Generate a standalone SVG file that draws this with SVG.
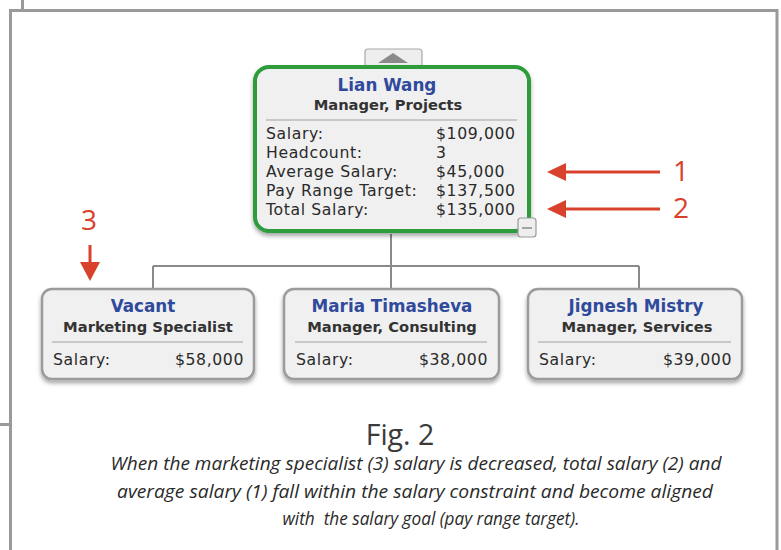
<svg xmlns="http://www.w3.org/2000/svg" width="781" height="550" viewBox="0 0 781 550">
<style>
.frame{stroke:#9a9a9a;stroke-width:3;fill:none}
.node{fill:#f0f0f0;stroke:#9b9b9b;stroke-width:2.5}
.top{fill:#f0f0f0;stroke:#2e9b3e;stroke-width:4}
.v{font-family:Verdana,"DejaVu Sans","Bitstream Vera Sans",sans-serif}
.name{font-weight:bold;font-size:16.8px;fill:#2f4a9c;text-anchor:middle}
.title{font-weight:bold;font-size:14.7px;fill:#333;text-anchor:middle}
.row{font-size:15.7px;fill:#2a2a2a;letter-spacing:0.6px}
.val{text-anchor:end}
.sep{stroke:#a0a0a0;stroke-width:1.2}
.conn{stroke:#8a8a8a;stroke-width:2;fill:none}
.red{stroke:#d8412c;stroke-width:3;fill:none}
.redfill{fill:#d8412c}
.num{font-family:"Open Sans","Liberation Sans",sans-serif;font-size:28px;fill:#d8412c}
.fig{font-family:"Open Sans","Liberation Sans",sans-serif;font-size:28.5px;fill:#3a3a3a;text-anchor:middle}
.cap{font-family:"Open Sans","Liberation Sans",sans-serif;font-style:italic;font-size:19px;fill:#2a2a2a;text-anchor:middle}
</style>
<defs>
<filter id="sh" x="-10%" y="-10%" width="120%" height="130%">
<feDropShadow dx="0" dy="3" stdDeviation="2" flood-color="#000" flood-opacity="0.35"/>
</filter>
</defs>
<rect width="781" height="550" fill="#ffffff"/>
<g id="frame">
<path class="frame" d="M10.5 550 V10.5 H777 V550"/>
<path class="frame" d="M22.5 0 V10.5"/>
<path class="frame" d="M0 424.5 H10.5"/>
</g>
<g id="connectors">
<path class="conn" d="M391 234 V266 M153 266 H639 M153 266 V289 M391 266 V289 M639 266 V289"/>
</g>
<g id="node-lian">
<rect x="365" y="49" width="57" height="22" rx="3" fill="#eeeeee" stroke="#a8a8a8" stroke-width="1.2"/>
<polygon points="378,63 393,53 408,63" fill="#8a8a8a"/>
<rect class="top" x="255" y="67" width="274" height="164" rx="14" filter="url(#sh)"/>
<text class="v name" x="387" y="91">Lian Wang</text>
<text class="v title" x="388" y="110">Manager, Projects</text>
<line class="sep" x1="266" y1="120" x2="517" y2="120"/>
<text class="v row" x="266" y="139">Salary:</text>
<text class="v row" x="436" y="139">$109,000</text>
<text class="v row" x="266" y="158">Headcount:</text>
<text class="v row" x="436" y="158">3</text>
<text class="v row" x="266" y="177">Average Salary:</text>
<text class="v row" x="436" y="177">$45,000</text>
<text class="v row" x="266" y="196">Pay Range Target:</text>
<text class="v row" x="436" y="196">$137,500</text>
<text class="v row" x="266" y="215">Total Salary:</text>
<text class="v row" x="436" y="215">$135,000</text>
<rect x="518" y="218" width="18" height="19" rx="3" fill="#eeeeee" stroke="#999" stroke-width="1.2"/>
<line x1="522" y1="228" x2="532" y2="228" stroke="#8a8a8a" stroke-width="1.5"/>
</g>
<g id="node-vacant">
<rect class="node" x="42" y="289" width="212" height="90" rx="10" filter="url(#sh)"/>
<text class="v name" x="143" y="312">Vacant</text>
<text class="v title" x="148" y="332">Marketing Specialist</text>
<line class="sep" x1="52" y1="342" x2="243" y2="342"/>
<text class="v row" x="53" y="365">Salary:</text>
<text class="v row val" x="244" y="365">$58,000</text>
</g>
<g id="node-maria">
<rect class="node" x="284" y="289" width="215" height="90" rx="10" filter="url(#sh)"/>
<text class="v name" x="392" y="312">Maria Timasheva</text>
<text class="v title" x="392" y="332">Manager, Consulting</text>
<line class="sep" x1="295" y1="342" x2="487" y2="342"/>
<text class="v row" x="296" y="365">Salary:</text>
<text class="v row val" x="488" y="365">$38,000</text>
</g>
<g id="node-jignesh">
<rect class="node" x="528" y="289" width="214" height="90" rx="10" filter="url(#sh)"/>
<text class="v name" x="636" y="312">Jignesh Mistry</text>
<text class="v title" x="637" y="332">Manager, Services</text>
<line class="sep" x1="538" y1="342" x2="731" y2="342"/>
<text class="v row" x="539" y="365">Salary:</text>
<text class="v row val" x="732" y="365">$39,000</text>
</g>
<g id="annotations">
<line class="red" x1="660" y1="172" x2="562" y2="172"/>
<polygon class="redfill" points="547,172 566,163 566,181"/>
<text class="num" x="673" y="181">1</text>
<line class="red" x1="660" y1="209" x2="562" y2="209"/>
<polygon class="redfill" points="547,209 566,200 566,218"/>
<text class="num" x="673" y="218">2</text>
<line class="red" x1="90" y1="245" x2="90" y2="264"/>
<polygon class="redfill" points="90,281 80,262 100,262"/>
<text class="num" x="81" y="230">3</text>
</g>
<g id="caption">
<text class="fig" x="400" y="445">Fig. 2</text>
<text class="cap" x="416" y="470" textLength="611" lengthAdjust="spacingAndGlyphs">When the marketing specialist (3) salary is decreased, total salary (2) and</text>
<text class="cap" x="415" y="498" textLength="596" lengthAdjust="spacingAndGlyphs">average salary (1) fall within the salary constraint and become aligned</text>
<text class="cap" x="431" y="525" textLength="297" lengthAdjust="spacingAndGlyphs" xml:space="preserve">with  the salary goal (pay range target).</text>
</g>
</svg>
